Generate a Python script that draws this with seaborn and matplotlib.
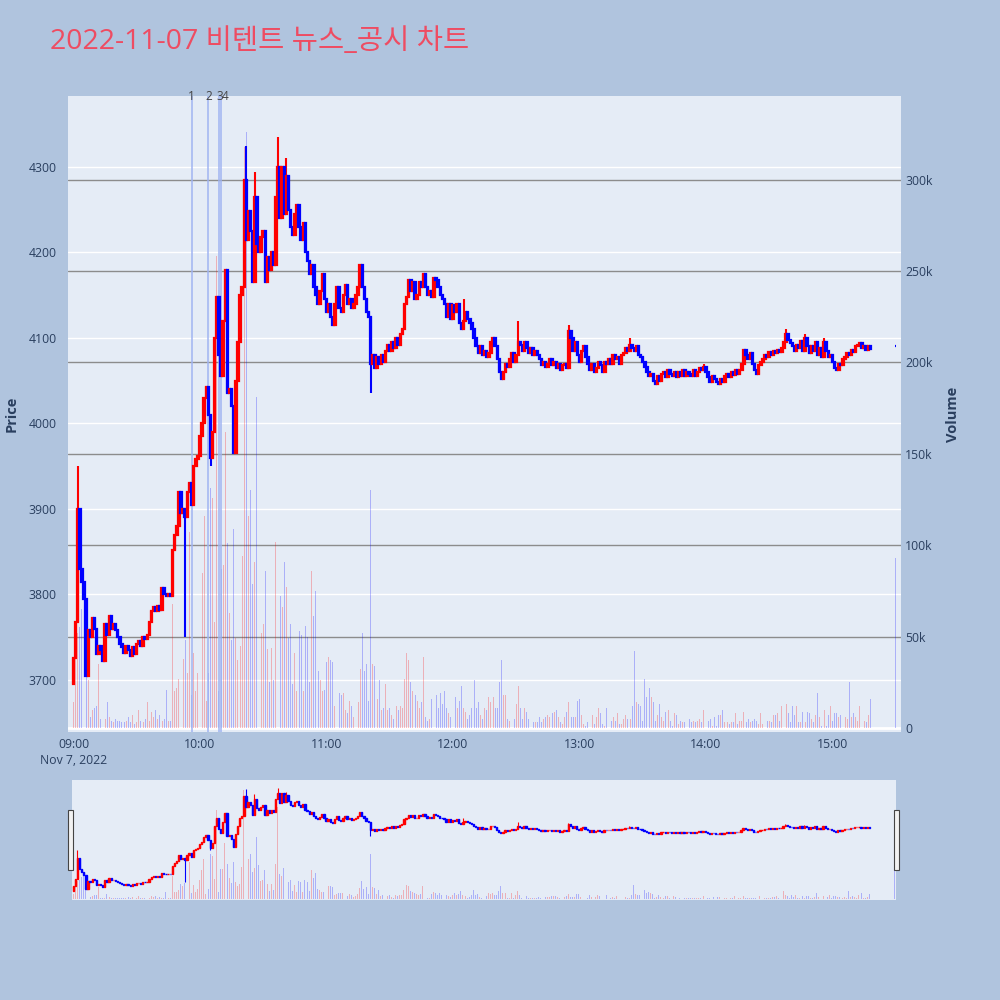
import numpy as np
import pandas as pd
import seaborn as sns
import matplotlib.pyplot as plt
import matplotlib.transforms as mtransforms
from matplotlib.patches import Rectangle

title = "2022-11-07 비텐트 뉴스_공시 차트"

# 1-minute closes from 09:00 (minute 0) to 15:18 (minute 378)
first_open = 3695
close = [
    3725, 3768, 3900, 3830, 3815, 3795, 3705, 3758, 3750, 3772,  # 09:00
    3760, 3730, 3740, 3735, 3722, 3765, 3752, 3775, 3760, 3765,  # 09:10
    3758, 3750, 3742, 3738, 3732, 3740, 3735, 3728, 3738, 3730,  # 09:20
    3742, 3745, 3740, 3750, 3748, 3752, 3768, 3780, 3785, 3780,  # 09:30
    3786, 3782, 3808, 3800, 3798, 3800, 3798, 3852, 3870, 3880,  # 09:40
    3920, 3895, 3900, 3890, 3920, 3930, 3905, 3950, 3958, 3962,  # 09:50
    3985, 4000, 4030, 4043, 4010, 3960, 3990, 4100, 4148, 4080,  # 10:00
    4055, 4120, 4180, 4035, 4040, 4020, 3965, 4050, 4095, 4150,  # 10:10
    4160, 4285, 4215, 4248, 4225, 4165, 4265, 4210, 4200, 4218,  # 10:20
    4225, 4165, 4195, 4180, 4200, 4185, 4265, 4300, 4240, 4300,  # 10:30
    4245, 4290, 4250, 4230, 4220, 4245, 4255, 4230, 4215, 4235,  # 10:40
    4200, 4190, 4175, 4185, 4160, 4150, 4140, 4155, 4175, 4145,  # 10:50
    4130, 4140, 4125, 4115, 4140, 4160, 4135, 4130, 4150, 4162,  # 11:00
    4140, 4145, 4135, 4140, 4150, 4160, 4185, 4160, 4145, 4130,  # 11:10
    4125, 4070, 4080, 4065, 4078, 4070, 4080, 4072, 4085, 4092,  # 11:20
    4085, 4095, 4088, 4100, 4092, 4105, 4110, 4140, 4148, 4168,  # 11:30
    4155, 4165, 4145, 4150, 4165, 4160, 4175, 4160, 4150, 4155,  # 11:40
    4148, 4170, 4168, 4160, 4150, 4145, 4140, 4125, 4140, 4122,  # 11:50
    4138, 4130, 4140, 4118, 4110, 4120, 4130, 4122, 4118, 4110,  # 12:00
    4100, 4090, 4082, 4090, 4080, 4085, 4078, 4082, 4095, 4100,  # 12:10
    4090, 4075, 4060, 4052, 4060, 4070, 4066, 4075, 4082, 4072,  # 12:20
    4080, 4095, 4092, 4085, 4095, 4088, 4082, 4088, 4080, 4085,  # 12:30
    4080, 4075, 4068, 4072, 4066, 4070, 4075, 4068, 4072, 4065,  # 12:40
    4070, 4062, 4068, 4070, 4065, 4108, 4100, 4085, 4095, 4080,  # 12:50
    4072, 4085, 4090, 4078, 4070, 4062, 4070, 4060, 4065, 4072,  # 13:00
    4068, 4060, 4072, 4070, 4075, 4070, 4080, 4075, 4078, 4070,  # 13:10
    4080, 4082, 4088, 4085, 4092, 4088, 4085, 4090, 4080, 4078,  # 13:20
    4072, 4066, 4060, 4055, 4058, 4050, 4046, 4055, 4050, 4058,  # 13:30
    4060, 4054, 4062, 4058, 4055, 4060, 4054, 4060, 4056, 4062,  # 13:40
    4055, 4060, 4058, 4055, 4062, 4056, 4060, 4065, 4062, 4066,  # 13:50
    4060, 4054, 4048, 4055, 4052, 4048, 4046, 4052, 4048, 4055,  # 14:00
    4058, 4054, 4060, 4057, 4062, 4058, 4062, 4070, 4086, 4080,  # 14:10
    4075, 4082, 4070, 4062, 4058, 4068, 4072, 4075, 4080, 4078,  # 14:20
    4083, 4080, 4085, 4082, 4086, 4083, 4088, 4095, 4105, 4098,  # 14:30
    4094, 4090, 4085, 4092, 4088, 4096, 4085, 4100, 4090, 4082,  # 14:40
    4090, 4085, 4095, 4080, 4088, 4078, 4095, 4085, 4078, 4080,  # 14:50
    4072, 4065, 4062, 4070, 4068, 4075, 4078, 4082, 4080, 4086,  # 15:00
    4083, 4090, 4092, 4094, 4088, 4090, 4086, 4090, 4087,        # 15:10
]

# volume per minute, in thousands of shares
volume_k = [
    14, 45, 52, 55, 65, 73, 40, 26, 6, 10,
    11, 12, 35, 5, 4, 5, 14, 6, 4, 3,
    5, 4, 4, 3, 3, 4, 6, 3, 7, 2,
    3, 10, 4, 3, 5, 14, 4, 9, 6, 10,
    5, 7, 4, 5, 21, 4, 4, 68, 20, 22,
    27, 44, 38, 48, 30, 107, 18, 41, 20, 30,
    57, 85, 116, 15, 30, 131, 126, 58, 258, 20,
    87, 89, 162, 101, 63, 48, 109, 49, 37, 45,
    94, 318, 326, 116, 130, 79, 91, 181, 99, 52,
    57, 86, 43, 25, 44, 26, 102, 267, 72, 66,
    91, 77, 49, 57, 24, 41, 20, 53, 51, 20,
    56, 50, 25, 86, 61, 75, 31, 26, 20, 21,
    36, 39, 37, 36, 12, 14, 19, 18, 19, 10,
    8, 15, 12, 6, 10, 14, 32, 52, 31, 35,
    15, 130, 35, 34, 16, 26, 10, 11, 24, 10,
    11, 7, 5, 12, 10, 12, 11, 27, 41, 37,
    25, 20, 18, 15, 11, 14, 39, 6, 4, 5,
    16, 20, 18, 11, 19, 13, 20, 11, 8, 6,
    12, 17, 11, 15, 23, 11, 9, 5, 7, 11,
    26, 11, 14, 7, 5, 11, 10, 17, 14, 17,
    11, 11, 25, 37, 18, 18, 5, 4, 18, 5,
    13, 23, 11, 5, 11, 9, 5, 3, 3, 3,
    3, 6, 3, 5, 6, 7, 6, 8, 9, 10,
    6, 3, 2, 6, 9, 14, 6, 6, 6, 15,
    16, 7, 2, 1, 3, 13, 7, 2, 6, 11,
    8, 2, 1, 11, 2, 4, 6, 4, 8, 2,
    2, 5, 7, 5, 5, 12, 42, 14, 13, 12,
    4, 27, 17, 22, 17, 14, 4, 7, 13, 6,
    4, 9, 10, 4, 1, 8, 7, 2, 4, 3,
    3, 3, 5, 3, 4, 3, 4, 5, 3, 10,
    2, 4, 5, 1, 6, 1, 7, 7, 10, 3,
    3, 2, 3, 3, 8, 2, 4, 4, 9, 3,
    5, 3, 4, 5, 4, 2, 8, 2, 3, 4,
    4, 3, 7, 7, 8, 4, 12, 24, 13, 8,
    3, 12, 7, 12, 3, 3, 9, 3, 9, 8,
    5, 3, 7, 19, 6, 1, 10, 1, 7, 12,
    4, 8, 8, 6, 7, 4, 6, 5, 25, 6,
    8, 6, 4, 12, 17, 4, 3, 7, 16,
]

# wicks that stick out beyond the bodies
high_wick = {2: 3950, 82: 4325, 86: 4294, 97: 4335, 101: 4310, 185: 4145,
             211: 4120, 235: 4115, 264: 4100, 299: 4069, 338: 4110,
             347: 4105, 356: 4100}
low_wick = {53: 3750, 65: 3950, 141: 4035}

# closing auction at 15:30
auction_minute = 390
auction_price = 4090
auction_volume_k = 93

# news / disclosure times (minutes after 09:00)
news_minutes = [56, 64, 69, 70]
news_labels = ["1", "2", "3", "4"]

tick_minutes = [0, 60, 120, 180, 240, 300, 360]
tick_labels = ["09:00\nNov 7, 2022", "10:00", "11:00", "12:00",
               "13:00", "14:00", "15:00"]
price_ticks = [3700, 3800, 3900, 4000, 4100, 4200, 4300]
volume_ticks_k = [0, 50, 100, 150, 200, 250, 300]

df = pd.DataFrame({
    "minute": list(range(len(close))) + [auction_minute],
    "open": [first_open] + close[:-1] + [auction_price],
    "close": close + [auction_price],
    "volume": [v * 1000 for v in volume_k + [auction_volume_k]],
})
df["high"] = df[["open", "close"]].max(axis=1)
df["low"] = df[["open", "close"]].min(axis=1)
for m, v in high_wick.items():
    df.loc[df.minute == m, "high"] = v
for m, v in low_wick.items():
    df.loc[df.minute == m, "low"] = v
df["dir"] = np.where(df["close"] > df["open"], "up", "down")
col = np.where(df["dir"] == "up", "#FF0000", "#0000FF")

sns.set_theme(style="white")
plt.rcParams["font.family"] = ["Open Sans", "Noto Sans CJK KR", "DejaVu Sans"]

BG = "#B0C4DE"
PLOT_BG = "#E5ECF6"
TXT = "#2a3f5f"
PRICE_LIM = (3639, 4383)
VOL_LIM = (-2200, 345700)


def draw(ax_vol, ax_price, xlim, body_w, body_lw, wick_lw, grid=True):
    ax_vol.set_facecolor(PLOT_BG)
    if grid:
        # price grid (white) drawn under the volume bars
        for p in price_ticks:
            ax_vol.plot(xlim, [p, p], color="white", lw=1, zorder=0,
                        transform=ax_price.transData)
        for v in volume_ticks_k[1:]:
            ax_vol.axhline(v * 1000, color="#8c8c8c", lw=1, zorder=0.5)
        ax_vol.axhline(0, color="white", lw=2, zorder=0.6)
    sns.histplot(data=df, x="minute", weights="volume", hue="dir",
                 hue_order=["up", "down"],
                 palette={"up": "#FF0000", "down": "#0000FF"},
                 discrete=True, shrink=0.45, alpha=0.25, linewidth=0,
                 legend=False, ax=ax_vol)
    ax_price.vlines(df["minute"], df["low"], df["high"], colors=col,
                    lw=wick_lw, zorder=3)
    ax_price.bar(df["minute"], df["close"] - df["open"], bottom=df["open"],
                 width=body_w, color=col, edgecolor=col, linewidth=body_lw,
                 zorder=4)
    ax_vol.set_xlim(*xlim)
    ax_vol.set_ylim(*VOL_LIM)
    ax_price.set_ylim(*PRICE_LIM)
    for a in (ax_vol, ax_price):
        a.set_xlabel("")
        a.set_ylabel("")
        for s in a.spines.values():
            s.set_visible(False)


fig = plt.figure(figsize=(10, 10), dpi=100, facecolor=BG)

# main chart
ax_vol = fig.add_axes([0.068, 0.268, 0.833, 0.636])
ax_price = ax_vol.twinx()
main_xlim = (-2.6, 392.5)
draw(ax_vol, ax_price, main_xlim, body_w=0.7, body_lw=1.6, wick_lw=1.5)

trans = mtransforms.blended_transform_factory(ax_price.transData, ax_price.transAxes)
label_x = [56, 64, 69.2, 70.2]
label_ha = ["center", "center", "center", "left"]
for m, lx, lab, ha in zip(news_minutes, label_x, news_labels, label_ha):
    ax_price.axvline(m, color="#9fb3f2", lw=1.2, alpha=0.9, zorder=2)
    ax_price.text(lx, 0.999, lab, transform=trans, ha=ha, va="center",
                  fontsize=8.5, color="#444444", zorder=6)

ax_vol.yaxis.tick_right()
ax_price.yaxis.tick_left()
ax_vol.set_yticks([v * 1000 for v in volume_ticks_k])
ax_vol.set_yticklabels(["0" if v == 0 else f"{v}k" for v in volume_ticks_k])
ax_price.set_yticks(price_ticks)
ax_price.set_yticklabels([str(p) for p in price_ticks])
ax_vol.set_xticks(tick_minutes)
ax_vol.set_xticklabels(tick_labels, linespacing=1.35)
for lab in ax_vol.get_xticklabels():
    lab.set_verticalalignment("top")
ax_vol.tick_params(axis="x", length=0, pad=4, labelsize=8.8, colors=TXT)
ax_vol.tick_params(axis="y", length=0, pad=3, labelsize=8.8, colors=TXT)
ax_price.tick_params(axis="y", length=0, pad=8, labelsize=8.8, colors=TXT)

fig.text(0.012, 0.586, "Price", rotation=90, ha="center", va="center",
         fontsize=10.5, fontweight="bold", color=TXT)
fig.text(0.953, 0.586, "Volume", rotation=90, ha="center", va="center",
         fontsize=10.5, fontweight="bold", color=TXT)
fig.text(0.05, 0.958, title, ha="left", va="center", fontsize=20.5,
         color="#EE4C62")

# range slider
sl_vol = fig.add_axes([0.072, 0.100, 0.824, 0.120])
sl_price = sl_vol.twinx()
draw(sl_vol, sl_price, (-0.6, 390.6), body_w=0.6, body_lw=1.0, wick_lw=0.8,
     grid=False)
for a in (sl_vol, sl_price):
    a.set_xticks([])
    a.set_yticks([])

for hx in (0.068, 0.894):
    fig.patches.append(Rectangle((hx, 0.130), 0.005, 0.060,
                                 transform=fig.transFigure, facecolor="#f2f2f2",
                                 edgecolor="#444444", lw=0.8, zorder=10))

fig.savefig("out.png", dpi=100, facecolor=BG)
